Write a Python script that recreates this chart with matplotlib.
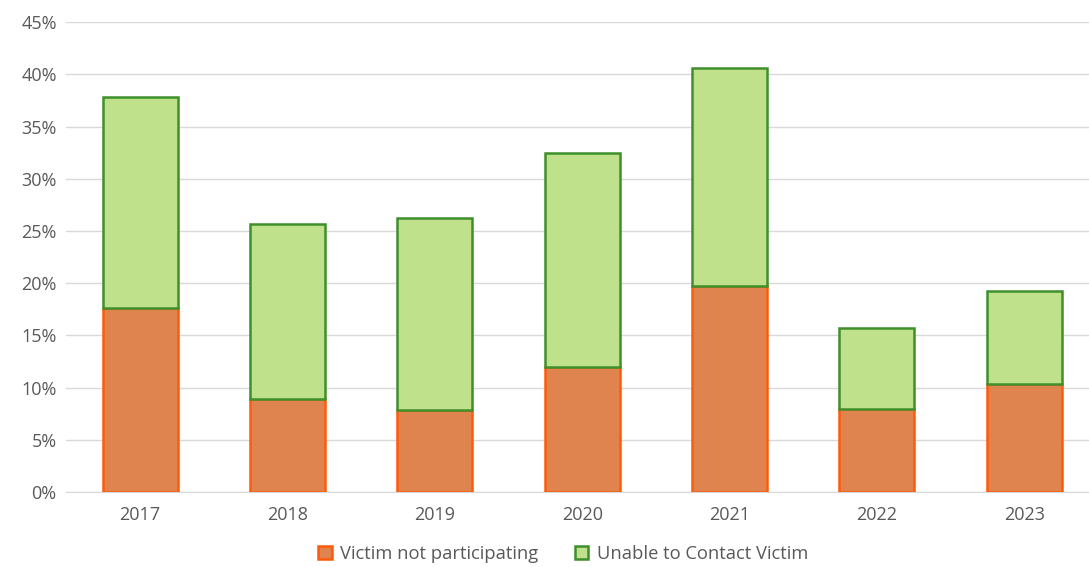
import matplotlib.pyplot as plt
from matplotlib.ticker import PercentFormatter

years = ['2017', '2018', '2019', '2020', '2021', '2022', '2023']
not_participating = [17.6, 8.9, 7.9, 12.0, 19.7, 8.0, 10.4]
unable_to_contact = [20.2, 16.8, 18.3, 20.5, 20.9, 7.7, 8.9]

plt.rcParams['font.family'] = ['Open Sans', 'DejaVu Sans']

fig = plt.figure(figsize=(10.89, 5.67), dpi=100)
ax = fig.add_axes([0.061, 0.132, 0.939, 0.829])

x = range(len(years))
ax.bar(x, not_participating, width=0.51, color='#E0844F', edgecolor='#FF5A0A',
       linewidth=1.8, label='Victim not participating', zorder=3)
ax.bar(x, unable_to_contact, bottom=not_participating, width=0.51, color='#BFE18B',
       edgecolor='#3F8F2B', linewidth=1.8, label='Unable to Contact Victim', zorder=3)

ax.set_ylim(0, 45)
ax.set_xlim(-0.5, 6.44)
ax.set_yticks(range(0, 46, 5))
ax.yaxis.set_major_formatter(PercentFormatter(decimals=0))
ax.set_xticks(list(x))
ax.set_xticklabels(years)
ax.grid(axis='y', color='#D9D9D9', linewidth=1, zorder=0)
for s in ['top', 'right', 'left']:
    ax.spines[s].set_visible(False)
ax.spines['bottom'].set_color('#D9D9D9')
ax.tick_params(length=0, labelsize=13, colors='#595959', pad=10)
ax.tick_params(axis='y', pad=7)

fig.legend(loc='center', bbox_to_anchor=(0.517, 0.023), ncol=2, frameon=False,
           fontsize=13.2, labelcolor='#595959', handlelength=0.75, handleheight=0.75,
           handletextpad=0.45, columnspacing=2.0)

fig.savefig('out.png', dpi=100)
